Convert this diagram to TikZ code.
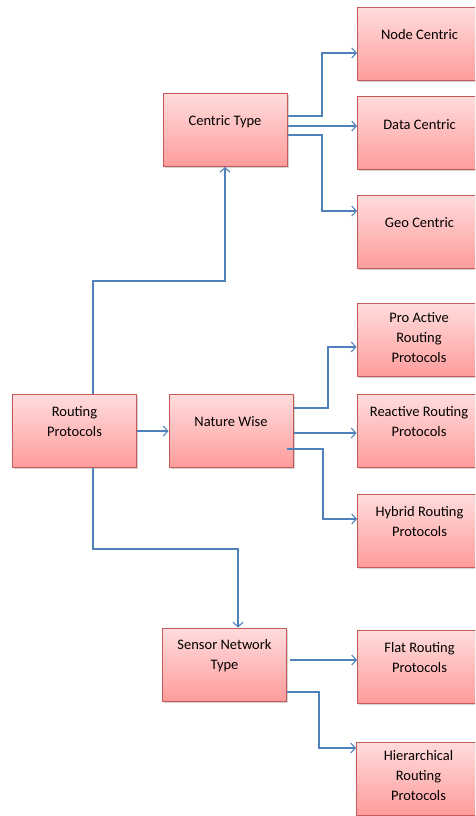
\documentclass[tikz,border=0pt]{standalone}
\usepackage{fontspec}
\setmainfont{Carlito}
\usepackage{xcolor}
\usepackage{tikz}
\usetikzlibrary{positioning,calc,shadows,arrows.meta}

\definecolor{boxtop}{HTML}{FFDCDC}
\definecolor{boxbot}{HTML}{FF9C9C}
\definecolor{boxline}{HTML}{C65A58}
\definecolor{linkblue}{HTML}{4F81BD}

\tikzset{
    protobox/.style={rectangle, draw=boxline, line width=1pt, top color=boxtop, bottom color=boxbot,
        minimum width=124pt, minimum height=73pt, inner sep=0pt,
        drop shadow={shadow xshift=1.5pt, shadow yshift=-1.5pt, opacity=0.35}},
    boxtext/.style={align=center, font=\fontsize{14.5}{20}\selectfont, text=black},
    link/.style={draw=linkblue, line width=1.1pt, -{Straight Barb[length=4.5pt,width=10pt,line width=1.1pt]}}
}

\begin{document}
\begin{tikzpicture}[x=1pt, y=-1pt]
    \useasboundingbox (0,0) rectangle (475,816);
    \clip (0,0) rectangle (475,816);

    % left and middle column
    \node[protobox, label={[boxtext, yshift=9pt]center:Routing\\Protocols}] (routing) at (74.5,431) {};
    \node[protobox, label={[boxtext, yshift=9pt]center:Nature Wise}] (nature) at (231,431) {};
    \node[protobox, label={[boxtext, yshift=8pt]center:Centric Type}] (centric) at (225,130) {};
    \node[protobox, label={[boxtext, yshift=9pt]center:Sensor Network\\Type}] (sensor) at (224.5,664.5) {};

    % right column
    \node[protobox, label={[boxtext, yshift=9pt]center:Node Centric}] (nodec) at (419.5,44) {};
    \node[protobox, label={[boxtext, yshift=8pt]center:Data Centric}] (datac) at (419.5,132.5) {};
    \node[protobox, label={[boxtext, yshift=9pt]center:Geo Centric}] (geoc) at (419.5,231.5) {};
    \node[protobox, label={[boxtext, yshift=2pt]center:Pro Active\\Routing\\Protocols}] (proactive) at (419,340) {};
    \node[protobox, label={[boxtext, yshift=9pt]center:Reactive Routing\\Protocols}] (reactive) at (419,431) {};
    \node[protobox, label={[boxtext, yshift=9pt]center:Hybrid Routing\\Protocols}] (hybrid) at (419.5,530.5) {};
    \node[protobox, label={[boxtext, yshift=9pt]center:Flat Routing\\Protocols}] (flat) at (419.5,666.5) {};
    \node[protobox, label={[boxtext, yshift=3pt]center:Hierarchical\\Routing\\Protocols}] (hier) at (418.5,778.5) {};

    % connectors from the root
    \draw[link] ([xshift=18.5pt]routing.north) |- (225,281) -- (centric.south);
    \draw[link] (routing.east) -- (nature.west);
    \draw[link] ([xshift=18.5pt]routing.south) |- (238,549) -- ([xshift=13.5pt]sensor.north);

    % centric type
    \draw[link] (centric.east |- 0,116) -| (322,53) -- (nodec.west |- 0,53);
    \draw[link] (centric.east |- 0,126) -- (datac.west |- 0,126);
    \draw[link] (centric.east |- 0,135) -| (322,211) -- (geoc.west |- 0,211);

    % nature wise
    \draw[link] (nature.east |- 0,408) -| (328,347) -- (proactive.west |- 0,347);
    \draw[link] (nature.east |- 0,433) -- (reactive.west |- 0,433);
    \draw[link] (287,449) -| (323,519) -- (hybrid.west |- 0,519);

    % sensor network type
    \draw[link] (290,660) -- (flat.west |- 0,660);
    \draw[link] (sensor.east |- 0,692) -| (319,748) -- (hier.west |- 0,748);
\end{tikzpicture}
\end{document}
